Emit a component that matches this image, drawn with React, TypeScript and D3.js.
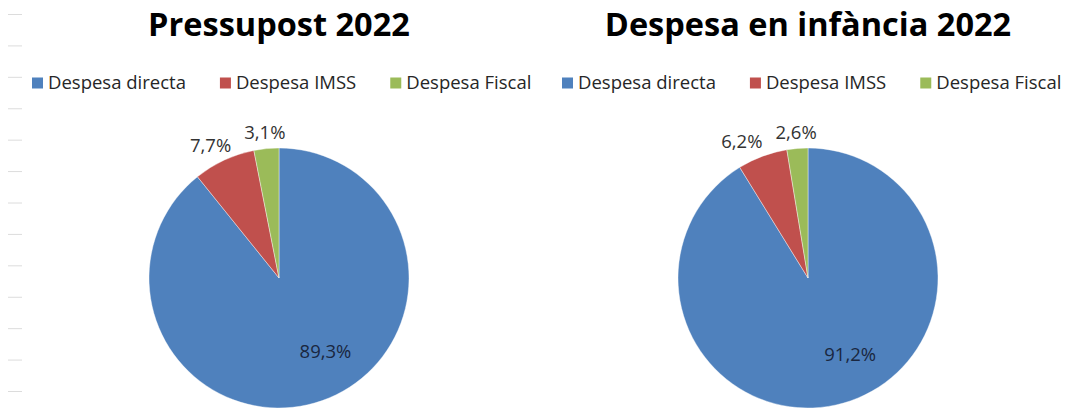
import React, { useEffect, useRef } from 'react';
import * as d3 from 'd3';

const categories = ['Despesa directa', 'Despesa IMSS', 'Despesa Fiscal'];
const sliceColors = ['#4f81bd', '#c0504d', '#9bbb59'];
const chartTitles = ['Pressupost 2022', 'Despesa en infància 2022'];
const pressupostValues = [89.3, 7.7, 3.1];
const infanciaValues = [91.2, 6.2, 2.6];
// unlabeled marks down the left edge
const sideTicks = d3.range(13);

const WIDTH = 1068;
const HEIGHT = 409;
const FONT = '"Open Sans", "Liberation Sans", sans-serif';

const catalan = d3.formatLocale({ decimal: ',', thousands: '.', grouping: [3], currency: ['', ' €'] });
const pct = (v: number) => catalan.format('.1f')(v) + '%';

export default function App() {
  const ref = useRef<SVGSVGElement>(null);

  useEffect(() => {
    if (!ref.current) return;
    const svg = d3.select(ref.current);
    svg.selectAll('*').remove();

    // faint ticks on the left
    const tickY = d3.scalePoint<number>().domain(sideTicks).range([14, 391]);
    svg.append('g')
      .attr('transform', 'translate(8,0)')
      .call(d3.axisRight(tickY).tickSize(14).tickFormat(() => ''))
      .call(g => g.select('.domain').remove())
      .selectAll('line')
      .attr('stroke', '#dcdcdc');

    const panels = [
      { title: chartTitles[0], values: pressupostValues, cx: 279, legendX: 32 },
      { title: chartTitles[1], values: infanciaValues, cx: 808, legendX: 562 },
    ];
    const r = 130;
    const cy = 278;
    const pie = d3.pie<number>().sort(null).value(d => d);
    const arc = d3.arc<d3.PieArcDatum<number>>().innerRadius(0).outerRadius(r);

    panels.forEach(p => {
      const g = svg.append('g');

      g.append('text')
        .attr('x', p.cx)
        .attr('y', 36)
        .attr('text-anchor', 'middle')
        .attr('font-family', FONT)
        .attr('font-weight', 700)
        .attr('font-size', 32.5)
        .attr('fill', '#000')
        .text(p.title);

      // legend, laid out left to right
      const lg = g.append('g').attr('transform', 'translate(0,83)');
      let x = p.legendX;
      categories.forEach((c, i) => {
        lg.append('rect')
          .attr('x', x)
          .attr('y', -5.5)
          .attr('width', 11)
          .attr('height', 11)
          .attr('fill', sliceColors[i]);
        const t = lg.append('text')
          .attr('x', x + 16)
          .attr('y', 0)
          .attr('dy', '0.35em')
          .attr('font-family', FONT)
          .attr('font-size', 18.5)
          .attr('fill', '#262626')
          .text(c);
        x += 16 + (t.node() as SVGTextElement).getComputedTextLength() + 34;
      });

      const arcs = pie(p.values);
      const pg = g.append('g').attr('transform', `translate(${p.cx},${cy})`);
      pg.selectAll('path')
        .data(arcs)
        .join('path')
        .attr('d', arc)
        .attr('fill', (_, i) => sliceColors[i])
        .attr('stroke', '#ffffff')
        .attr('stroke-opacity', 0.5)
        .attr('stroke-width', 0.8);

      // big slice: label inside
      const big = arcs[0];
      const a0 = big.startAngle + 0.46 * (big.endAngle - big.startAngle);
      const rIn = r * 0.67;
      pg.append('text')
        .attr('x', Math.sin(a0) * rIn)
        .attr('y', -Math.cos(a0) * rIn)
        .attr('dy', '0.35em')
        .attr('text-anchor', 'middle')
        .attr('font-family', FONT)
        .attr('font-size', 18.5)
        .attr('fill', '#1a2740')
        .text(pct(big.data));

      // small slices: labels outside, pushed apart right to left
      let prevLeft = Infinity;
      arcs.slice(1).reverse().forEach(d => {
        const mid = (d.startAngle + d.endAngle) / 2;
        const rOut = r + 16;
        let lx = Math.sin(mid) * rOut;
        const ly = -Math.cos(mid) * rOut;
        const t = pg.append('text')
          .attr('y', ly)
          .attr('dy', '0.35em')
          .attr('text-anchor', 'middle')
          .attr('font-family', FONT)
          .attr('font-size', 18.5)
          .attr('fill', '#333333')
          .text(pct(d.data));
        const w = (t.node() as SVGTextElement).getComputedTextLength();
        if (lx + w / 2 > prevLeft - 13) lx = prevLeft - 13 - w / 2;
        t.attr('x', lx);
        prevLeft = lx - w / 2;
      });
    });
  }, []);

  return (
    <svg
      ref={ref}
      width={WIDTH}
      height={HEIGHT}
      style={{ position: 'absolute', left: 0, top: 0, background: '#fff', display: 'block' }}
    />
  );
}
